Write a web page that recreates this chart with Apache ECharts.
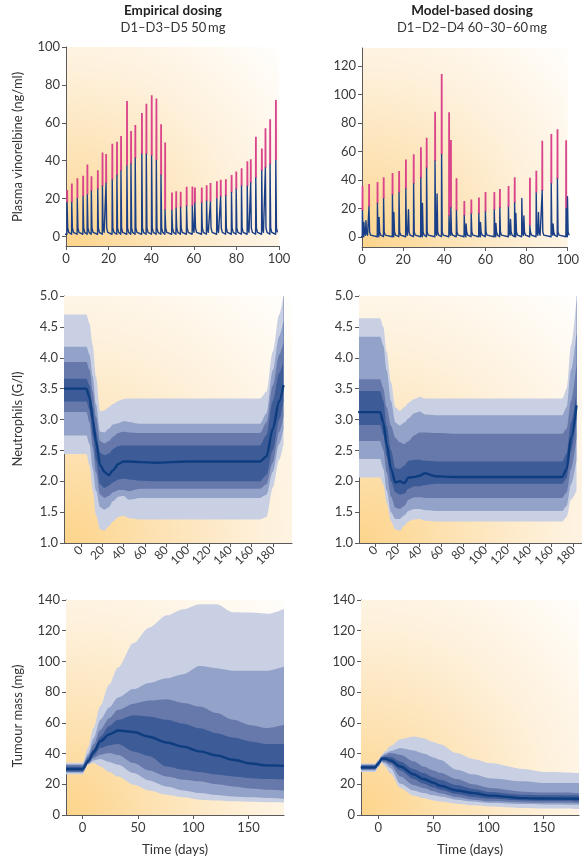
<!DOCTYPE html>
<html>
<head>
<meta charset="utf-8">
<script src="https://cdn.jsdelivr.net/npm/echarts@6/dist/echarts.min.js"></script>
<style>
  html, body { margin: 0; padding: 0; background: #fff; }
  #chart { width: 582px; height: 859px; }
</style>
</head>
<body>
<div id="chart"></div>
<script>
// ---- plasma vinorelbine, empirical dosing (D1-D3-D5 50 mg) ----
const empDoseDays = [0.5, 2.7, 5.3, 8.0, 10.0, 11.9, 14.9, 17.1, 18.8, 21.7, 23.9, 25.8, 28.6, 30.5, 32.5, 35.6, 37.7, 40.2, 42.4, 44.6, 46.5, 49.7, 51.7, 53.8, 56.6, 59.3, 60.5, 63.7, 66.0, 67.8, 70.8, 72.6, 75.0, 77.7, 79.9, 82.4, 85.1, 86.7, 89.1, 91.9, 93.6, 95.8, 98.5];
const empBluePeaks = [17.9, 18.0, 20.0, 21.0, 22.0, 23.9, 25.0, 26.5, 28.0, 30.0, 32.3, 34.6, 37.3, 38.3, 41.3, 43.4, 43.4, 42.5, 40.2, 32.3, 14.0, 13.9, 14.9, 15.3, 16.0, 16.0, 17.6, 17.6, 18.6, 18.3, 20.0, 20.9, 21.4, 23.2, 25.0, 26.5, 26.5, 28.3, 30.9, 34.6, 36.2, 38.1, 40.2];
const empPinkPeaks = [24.6, 28.0, 30.8, 32.0, 38.0, 31.8, 35.0, 44.3, 43.6, 49.0, 50.0, 53.0, 71.5, 55.7, 58.9, 65.2, 70.0, 74.5, 72.8, 59.2, 49.6, 23.2, 23.9, 23.6, 26.2, 26.4, 25.8, 25.8, 27.0, 28.3, 29.2, 29.9, 30.2, 32.5, 34.3, 36.0, 39.7, 40.8, 52.7, 46.4, 57.1, 61.9, 72.1];
const empTrough = 1.2;
const empTailLevels = [4.5, 2.2];

// ---- plasma vinorelbine, model-based dosing (D1-D2-D4 60-30-60 mg) ----
const modelDoseDays = [0.2, 3.4, 7.5, 10.5, 14.8, 18.0, 21.3, 25.1, 28.6, 31.4, 35.5, 38.7, 42.3, 43.2, 45.9, 49.7, 53.1, 56.8, 60.0, 64.3, 67.0, 71.2, 74.2, 77.7, 81.6, 84.7, 87.6, 92.0, 95.0, 99.2, 99.9];
const modelBluePeaks = [18.5, 21.3, 23.6, 26.9, 29.5, 31.1, 33.7, 37.4, 41.4, 48.2, 53.3, 58.0, 14.7, 20.6, 18.5, 15.0, 16.1, 16.1, 17.8, 19.0, 20.4, 21.0, 23.9, 27.1, 7.9, 31.0, 32.3, 37.4, 40.7, 20.1, 28.3];
const modelPinkPeaks = [35.8, 37.2, 38.6, 41.9, 44.9, 46.3, 54.3, 58.0, 62.9, 69.7, 87.9, 114.4, 87.5, 68.0, 41.2, 25.3, 26.4, 27.8, 31.6, 31.6, 33.7, 35.8, 41.9, 27.1, 41.6, 46.5, 67.6, 72.3, 75.6, 67.8, 28.3];
const modelSmallDays = [0.9, 1.9, 8.3, 15.5, 22.6, 29.4, 36.5, 50.6, 57.6, 65.1, 72.2, 74.8, 78.7, 85.8, 92.9];
const modelSmallPeaks = [10.3, 11.5, 13.8, 17.3, 19.2, 23.6, 30.2, 9.1, 10.3, 9.6, 12.4, 16.6, 14.7, 17.3, 9.1];
const modelTrough = 0.2;
const modelTailLevels = [3.5, 1.3];
const tailDays = [0.3, 0.8];

// ---- neutrophils, empirical ----
const empNeutT = [-16, 5, 8, 11, 14, 18, 22, 26, 30, 35, 40, 45, 55, 70, 100, 140, 168, 174, 180, 186, 190];
const empNeutU4 = [4.70, 4.70, 4.55, 4.2, 3.7, 3.13, 3.15, 3.2, 3.25, 3.3, 3.33, 3.34, 3.34, 3.34, 3.34, 3.34, 3.34, 3.45, 4.1, 4.7, 5.0];
const empNeutU3 = [4.18, 4.18, 4.05, 3.7, 3.25, 2.8, 2.79, 2.85, 2.92, 2.94, 2.97, 2.96, 2.93, 2.93, 2.93, 2.93, 2.93, 3.1, 3.8, 4.35, 4.6];
const empNeutU2 = [3.93, 3.93, 3.8, 3.45, 3.05, 2.65, 2.61, 2.65, 2.72, 2.78, 2.80, 2.79, 2.78, 2.78, 2.78, 2.78, 2.78, 2.95, 3.55, 4.05, 4.25];
const empNeutU1 = [3.66, 3.66, 3.55, 3.2, 2.8, 2.46, 2.42, 2.45, 2.52, 2.57, 2.58, 2.58, 2.58, 2.58, 2.58, 2.58, 2.58, 2.75, 3.3, 3.75, 3.95];
const empNeutMed = [3.50, 3.50, 3.35, 3.0, 2.65, 2.26, 2.15, 2.10, 2.18, 2.28, 2.32, 2.32, 2.31, 2.30, 2.32, 2.32, 2.32, 2.4, 2.85, 3.3, 3.56];
const empNeutL1 = [3.29, 3.29, 3.15, 2.75, 2.35, 1.95, 1.89, 1.93, 1.98, 2.03, 2.04, 2.03, 2.01, 2.0, 2.0, 2.0, 2.0, 2.1, 2.5, 3.0, 3.3];
const empNeutL2 = [3.12, 3.12, 2.95, 2.55, 2.15, 1.78, 1.73, 1.76, 1.82, 1.86, 1.86, 1.84, 1.88, 1.88, 1.88, 1.88, 1.88, 1.95, 2.3, 2.8, 3.05];
const empNeutL3 = [2.74, 2.74, 2.6, 2.2, 1.85, 1.58, 1.54, 1.58, 1.68, 1.75, 1.76, 1.70, 1.73, 1.73, 1.73, 1.73, 1.73, 1.78, 2.15, 2.6, 2.85];
const empNeutL4 = [2.44, 2.44, 2.25, 1.85, 1.45, 1.22, 1.2, 1.27, 1.35, 1.42, 1.44, 1.40, 1.38, 1.38, 1.38, 1.38, 1.38, 1.42, 1.9, 2.35, 2.6];

// ---- neutrophils, model-based ----
const modelNeutT = [-16, 4, 7, 10, 14, 18, 22, 26, 30, 35, 40, 45, 55, 70, 100, 140, 170, 174, 178, 183];
const modelNeutU4 = [4.64, 4.64, 4.5, 4.1, 3.6, 3.2, 3.14, 3.2, 3.27, 3.33, 3.37, 3.34, 3.34, 3.34, 3.34, 3.34, 3.34, 3.5, 4.2, 4.95];
const modelNeutU3 = [4.34, 4.34, 4.2, 3.8, 3.3, 2.95, 2.90, 2.95, 3.02, 3.10, 3.13, 3.08, 3.07, 3.07, 3.07, 3.07, 3.07, 3.2, 3.8, 4.4];
const modelNeutU2 = [3.65, 3.65, 3.5, 3.2, 2.9, 2.7, 2.63, 2.6, 2.65, 2.74, 2.79, 2.79, 2.78, 2.77, 2.77, 2.77, 2.77, 2.85, 3.3, 3.9];
const modelNeutU1 = [3.46, 3.46, 3.3, 2.9, 2.5, 2.21, 2.2, 2.25, 2.33, 2.35, 2.35, 2.33, 2.32, 2.32, 2.32, 2.32, 2.32, 2.45, 2.95, 3.45];
const modelNeutMed = [3.12, 3.12, 2.95, 2.6, 2.2, 1.98, 2.0, 1.97, 2.06, 2.07, 2.09, 2.13, 2.08, 2.07, 2.07, 2.07, 2.07, 2.2, 2.7, 3.23];
const modelNeutL1 = [2.91, 2.91, 2.75, 2.4, 2.0, 1.82, 1.78, 1.80, 1.88, 1.92, 1.92, 1.94, 1.96, 1.96, 1.96, 1.96, 1.96, 2.05, 2.5, 3.0];
const modelNeutL2 = [2.65, 2.65, 2.5, 2.15, 1.75, 1.57, 1.55, 1.6, 1.7, 1.74, 1.74, 1.73, 1.73, 1.73, 1.73, 1.73, 1.73, 1.82, 2.2, 2.7];
const modelNeutL3 = [2.36, 2.36, 2.2, 1.85, 1.5, 1.39, 1.39, 1.45, 1.52, 1.55, 1.55, 1.53, 1.52, 1.52, 1.52, 1.52, 1.52, 1.6, 1.95, 2.35];
const modelNeutL4 = [2.06, 2.06, 1.95, 1.65, 1.35, 1.22, 1.2, 1.28, 1.35, 1.38, 1.39, 1.36, 1.35, 1.35, 1.35, 1.35, 1.35, 1.42, 1.7, 1.85];

// ---- tumour mass, empirical ----
const empTumT = [-15, 0, 5, 10, 16, 24, 32, 46, 60, 76, 91, 106, 121, 136, 152, 167, 182];
const empTumU4 = [34, 34, 44, 57, 71, 85, 96, 112, 122, 130, 134, 137.2, 137.2, 132, 131.8, 131, 134.2];
const empTumU3 = [33, 33, 40, 50, 62, 70, 76.5, 82, 86, 89, 91.7, 97, 95.6, 94, 94, 94, 96.7];
const empTumU2 = [32.5, 32.5, 38.5, 46, 55.5, 63, 68.5, 72.5, 74.5, 75.4, 73, 70.7, 66.5, 62, 58.5, 56.6, 58.7];
const empTumU1 = [31.5, 31.5, 37, 43, 51, 58, 62, 65, 64.2, 62, 59.5, 56.5, 53.3, 50.5, 47.9, 46.2, 46.2];
const empTumMed = [30, 30, 35, 41, 48, 52.5, 55, 54, 51, 47.2, 44.5, 41.4, 38.8, 36, 33.5, 32.3, 32];
const empTumL1 = [28.5, 28.5, 34, 38.5, 43.6, 45.5, 46.2, 41.4, 38.5, 31.6, 29.5, 28, 26.3, 25.1, 24, 23.4, 23];
const empTumL2 = [28, 28, 33.5, 37, 39.2, 40.3, 39, 33.8, 29, 25.1, 23, 21.9, 20, 18.6, 17.3, 16.5, 16];
const empTumL3 = [27.5, 27.5, 33, 35.5, 36.4, 34.5, 32.7, 27.3, 22.5, 18.6, 16, 14.3, 13, 12.1, 11.5, 11.1, 10.6];
const empTumL4 = [26.5, 26.5, 33, 33.8, 31.6, 28, 25, 19.7, 16, 13.2, 11.5, 10, 9.4, 8.9, 8.6, 8.3, 8.2];

// ---- tumour mass, model-based ----
const modelTumT = [-16, -3, 0, 3, 6, 11, 20, 32, 41, 50, 56, 71, 86, 101, 132, 150, 182];
const modelTumU4 = [33.5, 33.5, 36, 39, 41.5, 45, 49.4, 51.1, 50, 47.5, 46, 40.3, 36.5, 33.8, 29.9, 28, 27.3];
const modelTumU3 = [33, 33, 35.5, 38.5, 40, 41.6, 43.6, 42, 40, 37.5, 36, 29.5, 26.5, 24, 21.9, 20.8, 20.8];
const modelTumU2 = [32.5, 32.5, 35, 38, 39, 40.3, 39.2, 35, 31.6, 29, 27.5, 23.4, 20, 17.6, 15.2, 14.6, 14.3];
const modelTumU1 = [32, 32, 34.5, 37.5, 38, 38, 34.9, 30, 27.3, 24.5, 23, 19.5, 17, 15, 13.2, 12.8, 12.6];
const modelTumMed = [31, 31, 33.5, 36.6, 36.8, 35.5, 31.6, 26.5, 23.4, 21, 19, 16, 14.3, 12.6, 11, 10.7, 10.6];
const modelTumL1 = [30, 30, 32.5, 35.5, 35.5, 34, 29, 23.5, 20.4, 18, 16.5, 13.7, 11.8, 10.6, 9.5, 9.2, 8.9];
const modelTumL2 = [29.5, 29.5, 32, 35, 34.5, 32.7, 25.1, 19.5, 17.6, 15.5, 14.2, 11.7, 10, 8.9, 8.2, 7.9, 7.8];
const modelTumL3 = [29, 29, 31.5, 34.5, 33.5, 30.6, 20.4, 16, 14.3, 12.8, 12, 10, 8.8, 7.8, 7.1, 6.9, 6.7];
const modelTumL4 = [28, 28, 31, 34, 31.6, 27, 17.6, 12.6, 11.1, 9.5, 8.8, 7.4, 6.3, 5.6, 4.6, 4.2, 3.9];

// ---- axis ticks ----
const plasmaXTicks = [0, 20, 40, 60, 80, 100];
const empPlasmaYTicks = [0, 20, 40, 60, 80, 100];
const modelPlasmaYTicks = [0, 20, 40, 60, 80, 100, 120];
const neutXTicks = [0, 20, 40, 60, 80, 100, 120, 140, 160, 180];
const neutYTicks = [1.0, 1.5, 2.0, 2.5, 3.0, 3.5, 4.0, 4.5, 5.0];
const tumXTicks = [0, 50, 100, 150];
const tumYTicks = [0, 20, 40, 60, 80, 100, 120, 140];

const FONT = "Lato, 'Open Sans', sans-serif";
const AXIS_COLOR = "#5a5a5a";
const BAND_LIGHT = "#c9d0e3";
const BAND_MID_LIGHT = "#93a2c9";
const BAND_MID = "#6679aa";
const BAND_DARK = "#3c5b97";
const MEDIAN_COLOR = "#0d3d7f";
const PINK = "#d9448b";
const PK_BLUE = "#1a3f87";

const gridRects = [
  { left: 66, top: 47, width: 213, height: 199 },
  { left: 362, top: 48, width: 212, height: 199 },
  { left: 64, top: 296, width: 228, height: 247 },
  { left: 359, top: 296, width: 223, height: 247 },
  { left: 66, top: 600, width: 218, height: 215 },
  { left: 361, top: 600, width: 218, height: 215 },
];

const bgStops = [
  { offset: 0, color: "#fdd48a" },
  { offset: 0.3, color: "#fde3b6" },
  { offset: 0.6, color: "#fef1dc" },
  { offset: 0.85, color: "#fffaf2" },
  { offset: 1, color: "#ffffff" },
];

// radial gradient in page pixels, shared by the panel background and the
// top band layer so that layer paints the background back above the fan
const panelGradient = (rect) => ({
  type: "radial",
  x: rect.left,
  y: rect.top + rect.height,
  r: 1.5 * Math.min(rect.width, rect.height),
  global: true,
  colorStops: bgStops,
});

const buildPkLine = (events, trough, tailLevels) => {
  const sorted = [...events].sort((a, b) => a.day - b.day);
  const points = [[-1, trough]];
  sorted.forEach((event, index) => {
    const next = index + 1 < sorted.length ? sorted[index + 1].day : Infinity;
    points.push([event.day - 0.08, trough]);
    points.push([event.day, event.peak]);
    tailDays.forEach((offset, k) => {
      if (event.day + offset < next - 0.1) {
        points.push([event.day + offset, tailLevels[k]]);
      }
    });
  });
  return points;
};

const buildPinkLine = (days, bluePeaks, pinkPeaks) => {
  const points = [];
  days.forEach((day, index) => {
    points.push([day, bluePeaks[index]]);
    points.push([day + 0.05, pinkPeaks[index]]);
    points.push([day + 0.1, bluePeaks[index]]);
    points.push([day + 0.11, null]);
  });
  return points;
};

const toEvents = (days, peaks) => days.map((day, index) => ({ day, peak: peaks[index] }));

const pkSeries = (axisIndex, days, bluePeaks, pinkPeaks, extraEvents, trough, tailLevels) => [
  {
    type: "line",
    xAxisIndex: axisIndex,
    yAxisIndex: axisIndex,
    data: buildPinkLine(days, bluePeaks, pinkPeaks),
    showSymbol: false,
    symbol: "none",
    connectNulls: false,
    lineStyle: { color: PINK, width: 1.8 },
    z: 2,
  },
  {
    type: "line",
    xAxisIndex: axisIndex,
    yAxisIndex: axisIndex,
    data: buildPkLine([...toEvents(days, bluePeaks), ...extraEvents], trough, tailLevels),
    showSymbol: false,
    symbol: "none",
    lineStyle: { color: PK_BLUE, width: 1.4, join: "round" },
    z: 3,
  },
];

// each bound is an opaque area filled up to the top of the axis, painted
// from the lowest bound upwards, so every band keeps the colour of its layer
const bandSeries = (axisIndex, t, l4, l3, l2, l1, med, u1, u2, u3, u4) => {
  const layers = [
    [l4, BAND_LIGHT],
    [l3, BAND_MID_LIGHT],
    [l2, BAND_MID],
    [l1, BAND_DARK],
    [u1, BAND_MID],
    [u2, BAND_MID_LIGHT],
    [u3, BAND_LIGHT],
    [u4, panelGradient(gridRects[axisIndex])],
  ];
  const series = layers.map(([bound, fill]) => ({
    type: "line",
    xAxisIndex: axisIndex,
    yAxisIndex: axisIndex,
    data: t.map((day, i) => [day, bound[i]]),
    showSymbol: false,
    symbol: "none",
    smooth: 0.3,
    smoothMonotone: "x",
    lineStyle: { width: 0, opacity: 0 },
    areaStyle: { color: fill, opacity: 1, origin: "end" },
    z: 2,
  }));
  series.push({
    type: "line",
    xAxisIndex: axisIndex,
    yAxisIndex: axisIndex,
    data: t.map((day, i) => [day, med[i]]),
    showSymbol: false,
    symbol: "none",
    smooth: 0.3,
    smoothMonotone: "x",
    lineStyle: { color: MEDIAN_COLOR, width: 2.4 },
    z: 3,
  });
  return series;
};

const grids = gridRects.map((rect) => ({
  ...rect,
  show: true,
  backgroundColor: panelGradient(rect),
  borderWidth: 0,
  containLabel: false,
}));

const xAxisFor = (gridIndex, min, max, ticks, extra = {}) => ({
  type: "value",
  gridIndex,
  min,
  max,
  axisLine: { show: true, onZero: false, lineStyle: { color: AXIS_COLOR, width: 1 } },
  axisTick: { show: true, customValues: ticks, length: 4, lineStyle: { color: AXIS_COLOR } },
  axisLabel: {
    customValues: ticks,
    color: "#3a3a3a",
    fontSize: 13,
    fontFamily: FONT,
    margin: 6,
    ...(extra.axisLabel || {}),
  },
  splitLine: { show: false },
  ...(extra.name ? {
    name: extra.name,
    nameLocation: "middle",
    nameGap: 28,
    nameTextStyle: { fontSize: 13.5, color: "#333", fontFamily: FONT },
  } : {}),
});

const yAxisFor = (gridIndex, min, max, ticks, formatter) => ({
  type: "value",
  gridIndex,
  min,
  max,
  axisLine: { show: true, onZero: false, lineStyle: { color: AXIS_COLOR, width: 1 } },
  axisTick: { show: true, customValues: ticks, length: 4, lineStyle: { color: AXIS_COLOR } },
  axisLabel: {
    customValues: ticks,
    color: "#3a3a3a",
    fontSize: 13,
    fontFamily: FONT,
    margin: 6,
    formatter: formatter || ((v) => String(v)),
  },
  splitLine: { show: false },
});

const rotated = { axisLabel: { rotate: 45, fontSize: 12, margin: 5 } };

const textEl = (x, y, text, style = {}, rotation = 0) => ({
  type: "text",
  x,
  y,
  rotation,
  silent: true,
  style: {
    text,
    align: "center",
    verticalAlign: "middle",
    fill: "#333",
    font: `13px ${FONT}`,
    ...style,
  },
});

const option = {
  animation: false,
  backgroundColor: "#ffffff",
  grid: grids,
  xAxis: [
    xAxisFor(0, 0, 100, plasmaXTicks),
    xAxisFor(1, 0, 100, plasmaXTicks),
    xAxisFor(2, -16, 198, neutXTicks, rotated),
    xAxisFor(3, -15.2, 188, neutXTicks, rotated),
    xAxisFor(4, -15, 182, tumXTicks, { name: "Time (days)" }),
    xAxisFor(5, -15.7, 182, tumXTicks, { name: "Time (days)" }),
  ],
  yAxis: [
    yAxisFor(0, -5, 100, empPlasmaYTicks),
    yAxisFor(1, -7, 132.6, modelPlasmaYTicks),
    yAxisFor(2, 1, 5, neutYTicks, (v) => v.toFixed(1)),
    yAxisFor(3, 1, 5, neutYTicks, (v) => v.toFixed(1)),
    yAxisFor(4, 0, 140, tumYTicks),
    yAxisFor(5, 0, 140, tumYTicks),
  ],
  graphic: [
    textEl(173, 11, "Empirical dosing", { font: `bold 13.5px ${FONT}`, fill: "#222" }),
    textEl(173, 28, "D1–D3–D5 50\u2009mg", { font: `13px ${FONT}` }),
    textEl(472, 11, "Model-based dosing", { font: `bold 13.5px ${FONT}`, fill: "#222" }),
    textEl(472, 28, "D1–D2–D4 60–30–60\u2009mg", { font: `13px ${FONT}` }),
    textEl(18, 147, "Plasma vinorelbine (ng/ml)", {}, Math.PI / 2),
    textEl(18, 419, "Neutrophils (G/l)", {}, Math.PI / 2),
    textEl(18, 716, "Tumour mass (mg)", {}, Math.PI / 2),
  ],
  series: [
    ...pkSeries(0, empDoseDays, empBluePeaks, empPinkPeaks, [], empTrough, empTailLevels),
    ...pkSeries(1, modelDoseDays, modelBluePeaks, modelPinkPeaks, toEvents(modelSmallDays, modelSmallPeaks), modelTrough, modelTailLevels),
    ...bandSeries(2, empNeutT, empNeutL4, empNeutL3, empNeutL2, empNeutL1, empNeutMed, empNeutU1, empNeutU2, empNeutU3, empNeutU4),
    ...bandSeries(3, modelNeutT, modelNeutL4, modelNeutL3, modelNeutL2, modelNeutL1, modelNeutMed, modelNeutU1, modelNeutU2, modelNeutU3, modelNeutU4),
    ...bandSeries(4, empTumT, empTumL4, empTumL3, empTumL2, empTumL1, empTumMed, empTumU1, empTumU2, empTumU3, empTumU4),
    ...bandSeries(5, modelTumT, modelTumL4, modelTumL3, modelTumL2, modelTumL1, modelTumMed, modelTumU1, modelTumU2, modelTumU3, modelTumU4),
  ],
};

const chart = echarts.init(document.getElementById("chart"), null, { renderer: "canvas" });
chart.setOption(option);
</script>
</body>
</html>
